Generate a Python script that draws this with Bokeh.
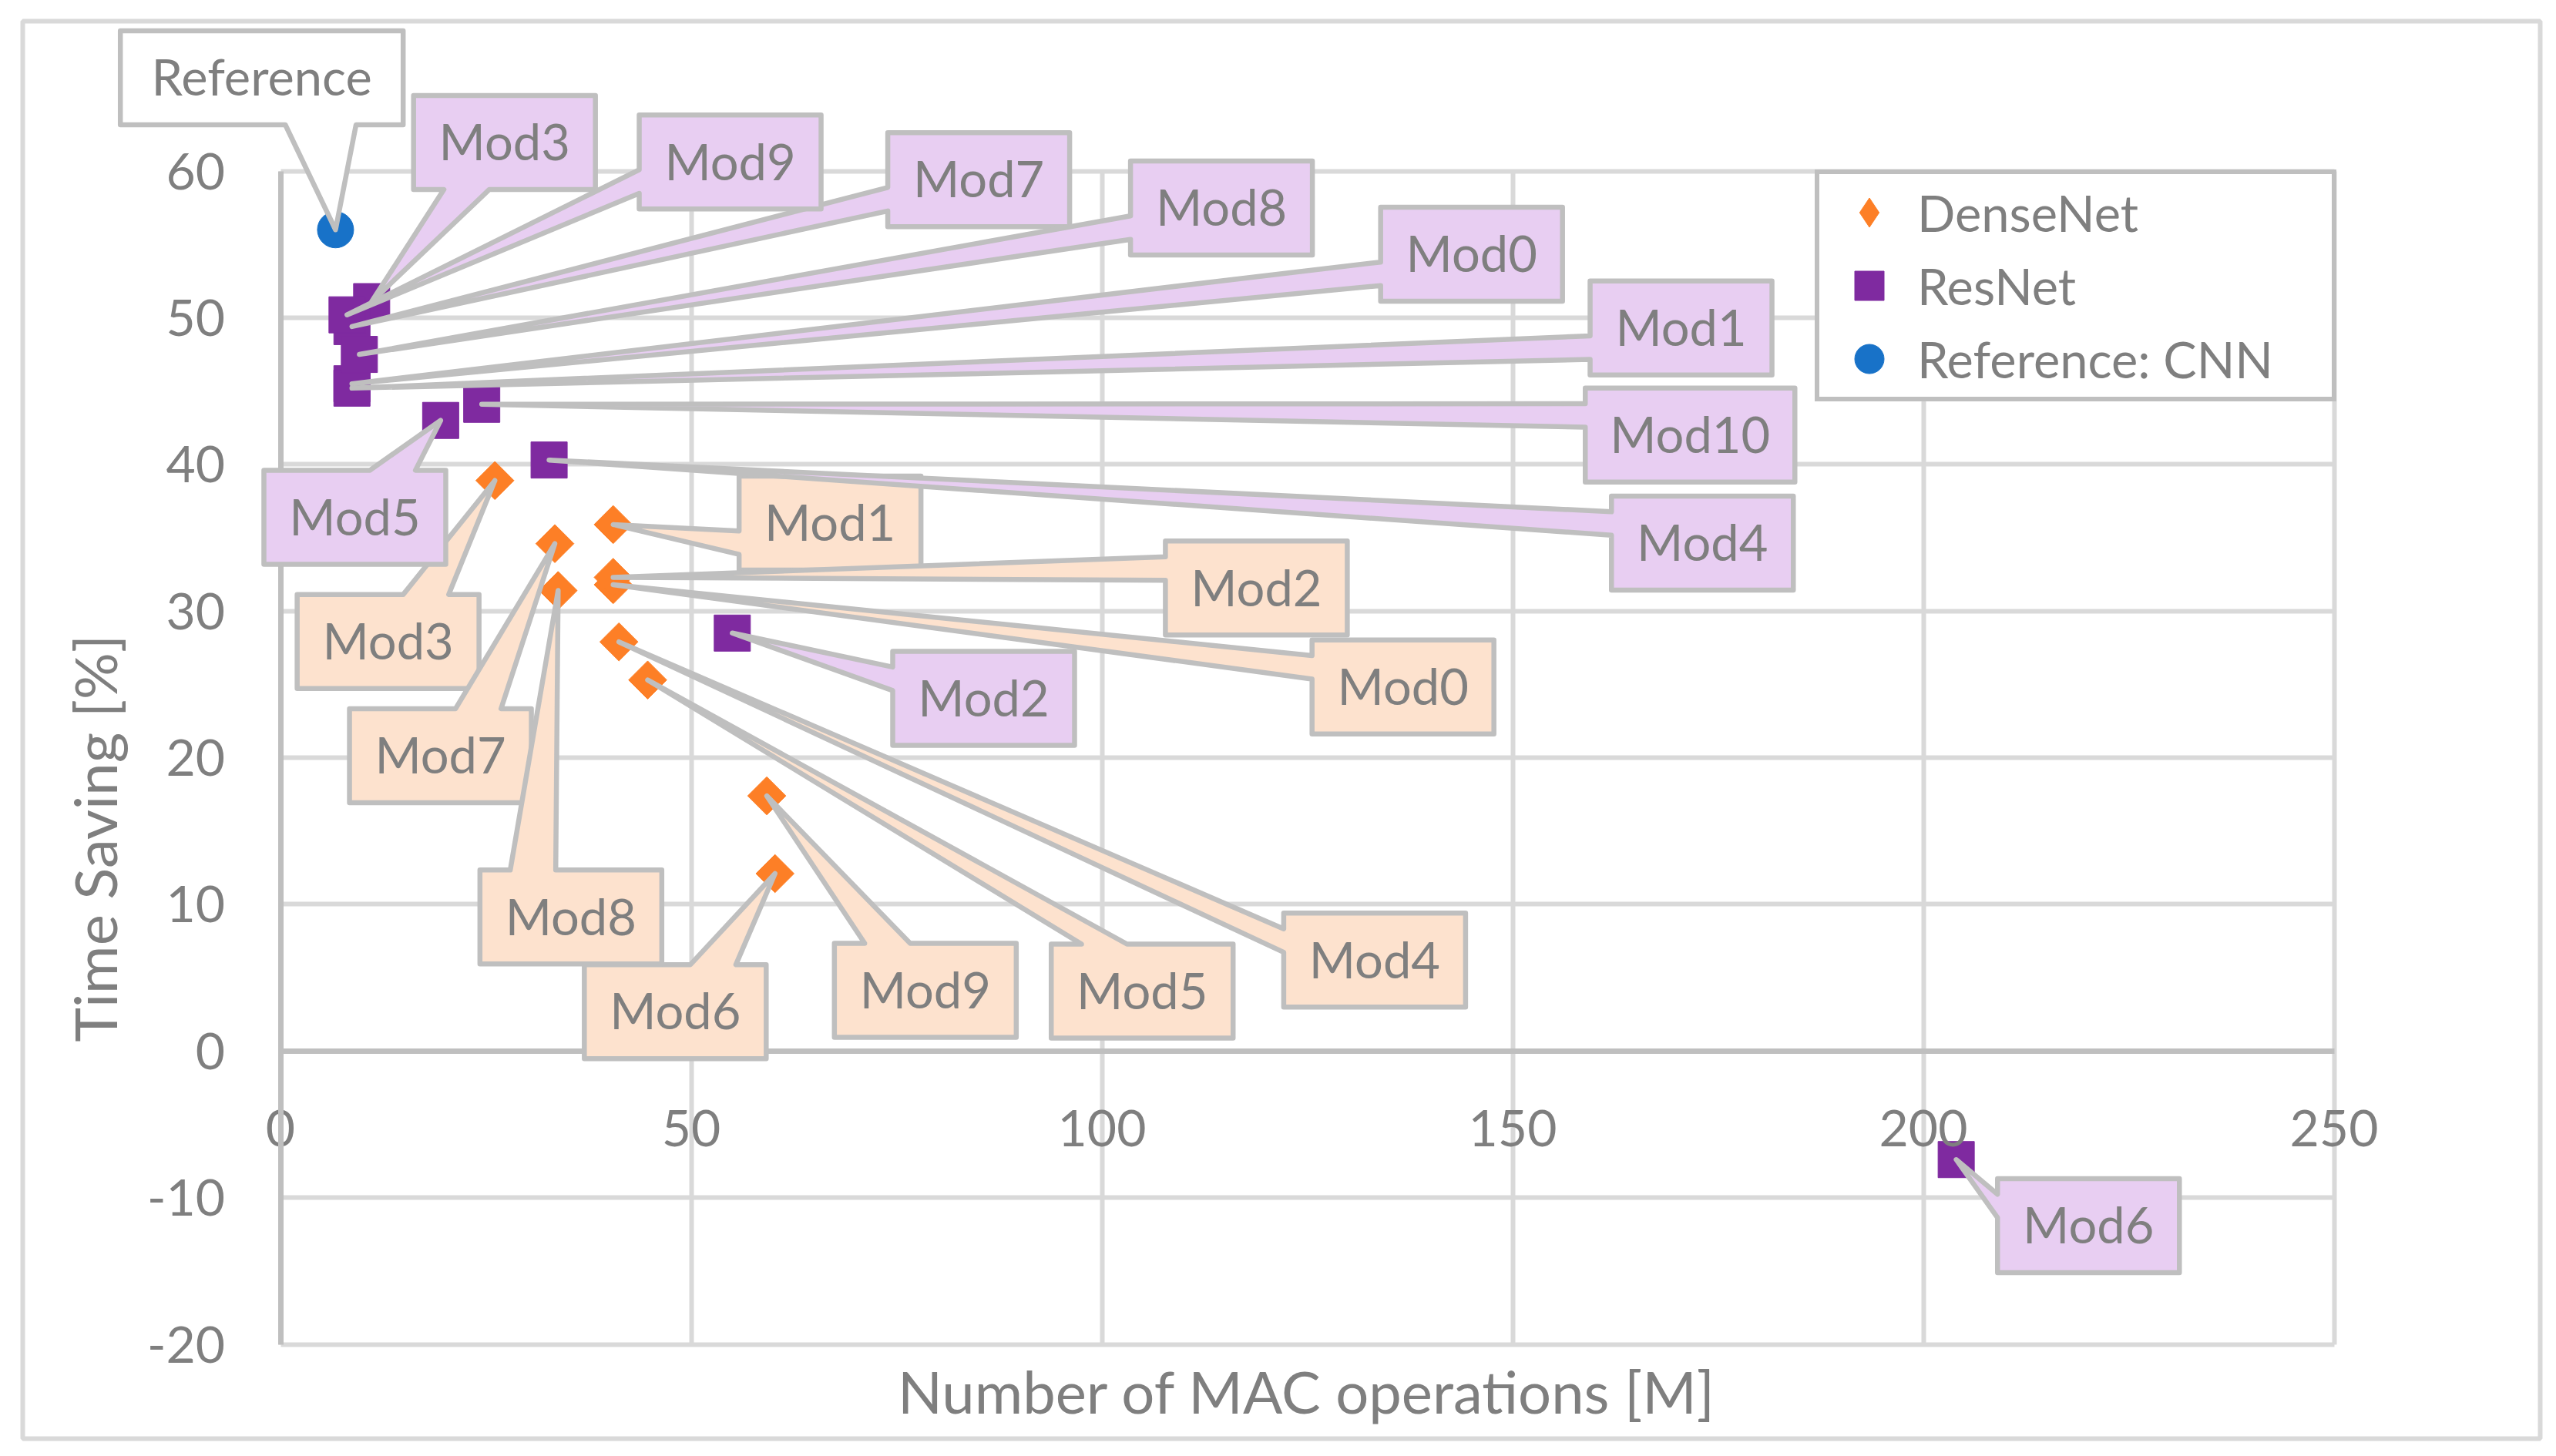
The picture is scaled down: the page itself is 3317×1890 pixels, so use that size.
import math
from bokeh.plotting import figure
from bokeh.models import (ColumnDataSource, FixedTicker, Legend, LegendItem,
                          PolyAnnotation, LabelSet, Label, BoxAnnotation)
from bokeh.core.properties import value
from bokeh.embed import file_html
from bokeh.resources import INLINE

# ---------------- data ----------------
dense_models = ["Mod0", "Mod1", "Mod2", "Mod3", "Mod4", "Mod5", "Mod6", "Mod7", "Mod8", "Mod9"]
dense_mac = [40.5, 40.5, 40.5, 26.1, 41.2, 44.7, 60.2, 33.4, 33.8, 59.2]
dense_saving = [31.8, 35.9, 32.3, 38.9, 27.9, 25.3, 12.1, 34.6, 31.4, 17.4]

res_models = ["Mod0", "Mod1", "Mod2", "Mod3", "Mod4", "Mod5", "Mod6", "Mod7", "Mod8", "Mod9", "Mod10"]
res_mac = [8.7, 8.7, 55.0, 11.1, 32.7, 19.5, 204.0, 8.7, 9.6, 8.1, 24.5]
res_saving = [45.5, 45.2, 28.5, 51.1, 40.3, 43.0, -7.4, 49.4, 47.5, 50.2, 44.1]

ref_models = ["Reference"]
ref_mac = [6.7]
ref_saving = [56.0]

x_ticks = [0, 50, 100, 150, 200, 250]
y_ticks = [-20, -10, 0, 10, 20, 30, 40, 50, 60]

# ---------------- layout (callout box centres, data units) ----------------
dense_label_x = [136.65, 66.9, 118.8, 13.1, 133.2, 104.9, 48.06, 19.47, 35.35, 78.5]
dense_label_y = [24.83, 36.0, 31.57, 27.93, 6.2, 4.09, 2.69, 20.14, 9.14, 4.14]
res_label_x = [145.0, 170.5, 85.6, 27.27, 173.1, 9.05, 220.1, 85.0, 114.55, 54.74, 171.6]
res_label_y = [54.33, 49.3, 24.05, 61.95, 34.64, 36.4, -11.9, 59.42, 57.48, 60.62, 42.0]
ref_label_x = [-2.28]
ref_label_y = [66.36]

# ---------------- styles ----------------
ORANGE = "#FD7F26"
PURPLE = "#7F2AA0"
BLUE = "#1872C8"
LAVENDER = "#E8CEF2"
PEACH = "#FDE2CE"
EDGE = "#BFBFBF"
GRID = "#D9D9D9"
TEXT = "#7F7F7F"
FONT = "Lato"

X0, X1 = 0, 250
Y0, Y1 = -20, 60
W, H = 3309, 1882             # canvas (frame covers it all, so callouts are not clipped)
PLOT_W, PLOT_H = 2665, 1523   # size of the data rectangle in px
LEFT, TOP = 363.5, 221.6      # px position of the data rectangle
KX = (X1 - X0) / PLOT_W       # data units per px
KY = (Y1 - Y0) / PLOT_H

XR0 = X0 - LEFT * KX
YR1 = Y1 + TOP * KY


def cx_px(px):
    return XR0 + px * KX


def cy_px(py):
    return YR1 - py * KY


p = figure(x_range=(XR0, XR0 + W * KX), y_range=(YR1 - H * KY, YR1),
           frame_width=W, frame_height=H,
           min_border_left=0, min_border_right=0,
           min_border_top=0, min_border_bottom=0,
           output_backend="svg", toolbar_location=None,
           background_fill_color="white", border_fill_color="white",
           outline_line_color=None)

# grid
p.xgrid.ticker = FixedTicker(ticks=x_ticks)
p.ygrid.ticker = FixedTicker(ticks=y_ticks)
for g in (p.xgrid, p.ygrid):
    g.grid_line_color = GRID
    g.grid_line_width = 6
p.xgrid.bounds = (X0, X1)
p.ygrid.bounds = (Y0, Y1)
try:
    p.xgrid.cross_bounds = (Y0, Y1)
    p.ygrid.cross_bounds = (X0, X1)
except Exception:
    pad_x, pad_y = 3.5 * KX, 3.5 * KY
    for kw in (dict(right=X0 - pad_x), dict(left=X1 + pad_x),
               dict(bottom=Y1 + pad_y, left=X0 - pad_x, right=X1 + pad_x),
               dict(top=Y0 - pad_y, left=X0 - pad_x, right=X1 + pad_x)):
        p.add_layout(BoxAnnotation(fill_color="white", fill_alpha=1.0,
                                   line_color=None, level="underlay", **kw))

# axes (crossing at 0, as in the spreadsheet chart)
p.xaxis.fixed_location = 0
p.yaxis.fixed_location = 0
p.xaxis.bounds = (X0, X1)
p.yaxis.bounds = (Y0, Y1)
p.xaxis.ticker = FixedTicker(ticks=x_ticks)
p.yaxis.ticker = FixedTicker(ticks=y_ticks)
p.yaxis.major_label_overrides = {t: str(t) for t in y_ticks}
p.xaxis.major_label_overrides = {t: str(t) for t in x_ticks}
for ax in (p.xaxis, p.yaxis):
    ax.axis_line_color = EDGE
    ax.axis_line_width = 7
    ax.major_tick_line_color = None
    ax.minor_tick_line_color = None
    ax.major_tick_out = 0
    ax.major_tick_in = 0
    ax.major_label_text_font = FONT
    ax.major_label_text_font_size = "66px"
    ax.major_label_text_color = TEXT
p.xaxis.major_label_standoff = 77
p.yaxis.major_label_standoff = 72

# outer chart border
p.add_layout(BoxAnnotation(left=cx_px(29), right=cx_px(3296),
                           top=cy_px(27), bottom=cy_px(1867),
                           fill_color=None, fill_alpha=0.0,
                           line_color=GRID, line_alpha=1.0, line_width=6,
                           level="underlay"))

# markers
r_dense_key = p.scatter(dense_mac, dense_saving, marker="diamond", size=34,
                        fill_color=ORANGE, line_color=ORANGE)
r_dense = p.scatter(dense_mac, dense_saving, marker="square", angle=math.pi / 4,
                    size=35, fill_color=ORANGE, line_color=ORANGE)
r_res = p.scatter(res_mac, res_saving, marker="square", size=47,
                  fill_color=PURPLE, line_color=PURPLE)
r_ref = p.scatter(ref_mac, ref_saving, marker="circle", size=47,
                  fill_color=BLUE, line_color=BLUE)


def callout_polygon(cx, cy, w, h, x_pt, y_pt):
    """Spreadsheet 'wedgeRectCallout' outline, built in px around the box centre."""
    tx = (x_pt - cx) / KX
    ty = -(y_pt - cy) / KY
    l, r, t, b = -w / 2, w / 2, -h / 2, h / 2
    if abs(tx) * h > abs(ty) * w:
        if ty > 0:
            a1, a2 = t + h * 7 / 12, t + h * 10 / 12
        else:
            a1, a2 = t + h * 2 / 12, t + h * 5 / 12
        if tx > 0:
            pts = [(l, t), (r, t), (r, a1), (tx, ty), (r, a2), (r, b), (l, b)]
        else:
            pts = [(l, t), (r, t), (r, b), (l, b), (l, a2), (tx, ty), (l, a1)]
    else:
        if tx > 0:
            a1, a2 = l + w * 7 / 12, l + w * 10 / 12
        else:
            a1, a2 = l + w * 2 / 12, l + w * 5 / 12
        if ty < 0:
            pts = [(l, t), (a1, t), (tx, ty), (a2, t), (r, t), (r, b), (l, b)]
        else:
            pts = [(l, t), (r, t), (r, b), (a2, b), (tx, ty), (a1, b), (l, b)]
    xs = [cx + px * KX for px, _ in pts]
    ys = [cy - py * KY for _, py in pts]
    return xs, ys


def box_width(name):
    return {4: 236, 5: 272}.get(len(name), 367)


def add_callouts(names, xs_pt, ys_pt, lx, ly, fill):
    for name, xp, yp, cx, cy in zip(names, xs_pt, ys_pt, lx, ly):
        w = box_width(name)
        h = 122
        xs, ys = callout_polygon(cx, cy, w, h, xp, yp)
        p.add_layout(PolyAnnotation(xs=xs, ys=ys, xs_units="data", ys_units="data",
                                    fill_color=fill, fill_alpha=1.0,
                                    line_color=EDGE, line_alpha=1.0, line_width=6.5,
                                    line_join="round"))
    src = ColumnDataSource(dict(x=lx, y=[c - 23.3 * KY for c in ly], text=names))
    p.add_layout(LabelSet(x="x", y="y", text="text", source=src,
                          text_font=value(FONT), text_font_size=value("65px"),
                          text_color=TEXT, text_align="center",
                          text_baseline="alphabetic"))


add_callouts(dense_models, dense_mac, dense_saving, dense_label_x, dense_label_y, PEACH)
add_callouts(res_models, res_mac, res_saving, res_label_x, res_label_y, LAVENDER)
add_callouts(ref_models, ref_mac, ref_saving, ref_label_x, ref_label_y, "#FFFFFF")

# axis titles
p.add_layout(Label(x=cx_px(122), y=14.5, text="Time Saving [%]", angle=math.pi / 2,
                   text_font=FONT, text_font_size="76px", text_color=TEXT,
                   text_align="center", text_baseline="alphabetic"))
p.add_layout(Label(x=125, y=cy_px(1805), text="Number of MAC operations [M]",
                   text_font=FONT, text_font_size="76px", text_color=TEXT,
                   text_align="center", text_baseline="alphabetic"))

# legend
LG_PAD, LG_GW, LG_GH, LG_STAND = 2, 125, 95, 0
LG_W = 665
LG_H = 299
legend = Legend(items=[LegendItem(label="DenseNet", renderers=[r_dense_key]),
                       LegendItem(label="ResNet", renderers=[r_res]),
                       LegendItem(label="Reference: CNN", renderers=[r_ref])],
                location=(3028 - LG_W - 8, H - (222 + LG_H)), margin=0,
                padding=LG_PAD, spacing=0,
                glyph_width=LG_GW, glyph_height=LG_GH, label_standoff=LG_STAND,
                label_width=LG_W - 2 * LG_PAD - LG_GW - LG_STAND,
                label_text_font=FONT, label_text_font_size="65px",
                label_text_color=TEXT,
                border_line_color=EDGE, border_line_width=6, border_line_alpha=1.0,
                background_fill_color="white", background_fill_alpha=1.0)
p.add_layout(legend)

open("out.html", "w").write(file_html(p, INLINE))
